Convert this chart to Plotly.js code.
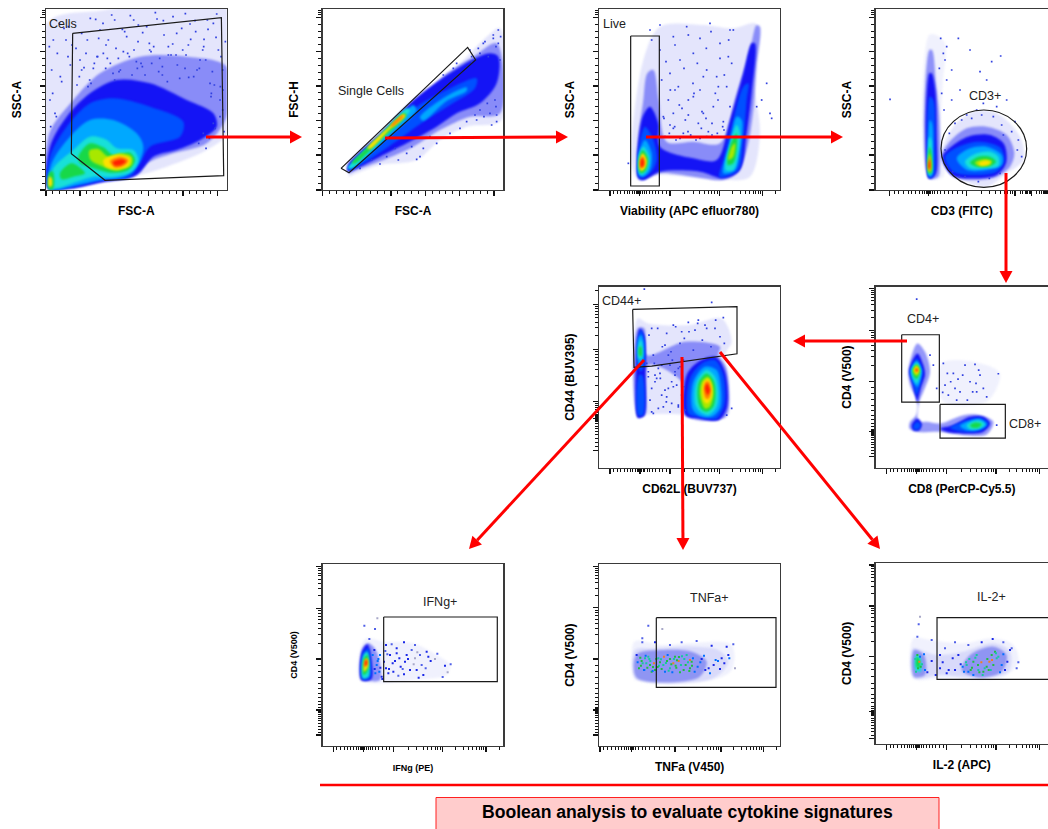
<!DOCTYPE html>
<html><head><meta charset="utf-8">
<script src="https://cdn.plot.ly/plotly-3.0.1.min.js"></script>
<style>html,body{margin:0;padding:0;background:#fff}#g{width:1048px;height:829px}</style></head>
<body><div id="g"></div>
<script>
// ---------- density bands: [level,[[channelX,channelY],...]]
const cellsBands=[
[0,[[140,568],[140,70],[300,32],[680,27],[680,400],[620,450],[500,500],[420,525],[300,548],[200,568]]],
[1,[[145,565],[148,400],[220,300],[300,220],[420,170],[560,170],[680,200],[680,350],[620,430],[520,460],[440,490],[400,530],[300,548],[200,568]]],
[2,[[145,565],[150,440],[200,350],[270,280],[350,240],[450,250],[560,300],[640,340],[650,380],[600,420],[530,450],[460,470],[410,525],[310,545],[210,565]]],
[3,[[146,565],[150,470],[200,380],[270,310],[340,295],[450,320],[550,365],[540,410],[450,440],[420,490],[390,530],[310,540],[220,560]]],
[4,[[147,565],[155,490],[210,410],[270,360],[340,360],[410,400],[430,440],[410,500],[370,530],[300,540],[230,555],[170,568]]],
[5,[[148,566],[160,505],[220,450],[270,410],[320,420],[350,445],[400,450],[415,480],[395,515],[340,530],[280,530],[230,545],[170,565]]],
[6,[[235,470],[270,430],[310,442],[340,465],[390,458],[405,480],[385,510],[330,518],[280,505],[240,490]]],
[6,[[180,520],[215,490],[255,520],[220,530],[185,538]]],
[6,[[147,568],[147,518],[158,514],[163,540],[158,568]]],
[7,[[268,452],[295,447],[325,470],[360,460],[395,470],[395,495],[350,512],[310,500],[272,480]]],
[8,[[310,480],[350,465],[390,475],[385,497],[345,508],[315,498]]],
[8,[[147,560],[147,530],[155,535],[155,558]]],
[9,[[330,483],[360,470],[385,480],[375,495],[345,503]]],
[10,[[338,487],[365,478],[378,484],[365,494],[345,497]]]];
const singletBands=[
[0,[[205,530],[300,420],[430,300],[560,170],[610,120],[660,85],[665,360],[560,380],[480,420],[410,480],[300,495],[230,520]]],
[1,[[205,520],[330,400],[420,300],[500,220],[580,170],[650,130],[660,340],[570,350],[480,390],[400,440],[310,480],[230,510]]],
[2,[[203,515],[203,495],[300,400],[400,300],[480,240],[580,178],[630,160],[655,170],[650,250],[600,310],[530,340],[470,380],[380,430],[300,470],[230,505]]],
[3,[[204,510],[300,420],[410,320],[500,270],[590,235],[585,265],[510,315],[430,365],[340,430],[250,490]]],
[4,[[203,505],[300,410],[380,330],[400,315],[410,330],[400,345],[310,425],[230,495]]],
[4,[[420,352],[500,288],[560,262],[560,273],[500,303],[430,362]]],
[5,[[204,505],[290,415],[380,325],[390,330],[300,425],[215,505]]],
[6,[[215,490],[300,407],[372,340],[380,345],[300,422],[225,490]]],
[8,[[262,445],[330,378],[372,342],[376,347],[330,388],[270,447]]],
[9,[[332,378],[368,345],[371,348],[336,380]]]];
const liveBands=[
[0,[[215,490],[250,180],[300,80],[430,75],[520,85],[585,70],[598,100],[580,230],[600,400],[570,530],[490,540],[300,525],[235,540]]],
[1,[[240,540],[230,470],[250,300],[262,220],[280,210],[296,300],[320,425],[400,425],[480,430],[530,280],[570,150],[590,75],[600,80],[590,200],[580,330],[560,450],[530,520],[490,540],[400,530],[300,520],[250,540]]],
[2,[[235,535],[232,470],[248,350],[270,320],[295,370],[300,440],[400,475],[470,480],[510,360],[550,220],[575,130],[585,130],[575,280],[560,400],[540,510],[490,535],[420,515],[300,515],[250,540]]],
[3,[[237,532],[233,470],[255,380],[280,420],[290,480],[270,520]]],
[3,[[478,530],[490,480],[515,380],[550,260],[565,250],[560,300],[550,420],[535,510],[495,530]]],
[4,[[238,525],[235,470],[255,420],[275,460],[270,510],[250,530]]],
[4,[[490,520],[510,430],[530,350],[545,360],[540,450],[525,510]]],
[5,[[238,520],[236,470],[250,440],[268,470],[262,510],[245,525]]],
[5,[[497,510],[510,430],[530,375],[540,400],[535,460],[520,510]]],
[6,[[238,515],[237,475],[248,450],[264,475],[258,510],[245,520]]],
[6,[[503,495],[513,430],[530,400],[530,450],[520,490]]],
[7,[[505,480],[515,440],[525,430],[520,470]]],
[8,[[240,510],[240,475],[248,460],[260,480],[255,505],[245,513]]],
[9,[[241,505],[241,478],[248,468],[255,485],[252,500]]],
[10,[[243,500],[243,480],[248,475],[252,490],[248,500]]]];
const cd3Bands=[
[14,[[296,535],[297,105],[318,105],[345,130],[338,250],[332,400],[340,530]]],
[0,[[335,470],[370,380],[430,335],[500,340],[570,410],[580,480],[530,520],[470,560],[400,540]]],
[1,[[296,535],[298,150],[306,150],[318,250],[328,350],[330,500],[325,530]]],
[1,[[335,470],[355,430],[410,385],[470,380],[530,405],[553,460],[540,500],[500,530],[440,540],[370,530]]],
[2,[[296,535],[298,220],[305,220],[316,270],[320,400],[318,520],[305,535]]],
[2,[[338,470],[370,435],[420,408],[480,405],[522,432],[528,490],[500,525],[430,535],[365,525]]],
[3,[[296,530],[299,290],[310,300],[315,420],[312,525],[300,535]]],
[3,[[345,470],[390,438],[450,425],[510,442],[523,480],[500,515],[430,525],[370,515]]],
[4,[[296,525],[300,360],[306,370],[309,460],[306,525],[299,530]]],
[4,[[380,475],[420,445],[470,440],[515,465],[515,495],[470,510],[410,510]]],
[5,[[296,525],[298,410],[304,420],[306,480],[304,520]]],
[5,[[405,485],[440,460],[480,455],[505,470],[505,498],[465,505],[420,505]]],
[6,[[296,520],[298,440],[303,450],[304,520]]],
[6,[[420,488],[445,470],[480,470],[498,485],[480,498],[440,500]]],
[7,[[296,515],[298,460],[302,470],[302,515]]],
[7,[[435,488],[460,478],[485,483],[480,495],[445,497]]],
[8,[[446,490],[465,482],[482,486],[470,495],[450,496]]],
[9,[[296,510],[298,470],[301,480],[301,510]]],
[10,[[296,505],[298,480],[300,490],[299,505]]]];
const cd44Bands=[
[0,[[250,430],[248,130],[280,145],[400,150],[500,130],[530,200],[510,240],[520,420],[480,435],[400,420],[270,420]]],
[1,[[248,425],[248,160],[268,160],[275,240],[390,200],[495,215],[490,240],[515,280],[515,420],[480,435],[400,425],[380,320],[280,270],[270,420]]],
[2,[[248,428],[247,200],[255,160],[268,180],[272,300],[268,420],[255,428]]],
[2,[[390,420],[395,300],[430,260],[480,245],[510,290],[515,400],[490,435],[430,430]]],
[3,[[248,270],[248,190],[258,165],[268,190],[268,270],[258,290]]],
[3,[[250,420],[252,300],[262,300],[264,420]]],
[3,[[400,415],[405,310],[440,265],[480,255],[505,300],[508,390],[485,430],[430,425]]],
[4,[[249,260],[250,190],[258,180],[265,200],[264,260],[256,275]]],
[4,[[412,400],[415,320],[450,275],[485,285],[498,340],[495,400],[470,425],[430,420]]],
[5,[[251,250],[252,205],[258,195],[262,210],[261,250]]],
[5,[[420,385],[425,320],[455,285],[480,305],[490,350],[485,395],[460,420],[435,410]]],
[6,[[252,240],[253,215],[259,215],[259,245]]],
[6,[[428,370],[432,320],[455,295],[475,315],[482,350],[475,395],[455,410],[437,400]]],
[7,[[435,360],[440,320],[458,305],[472,325],[475,360],[465,395],[450,400]]],
[8,[[442,350],[447,320],[460,312],[470,335],[470,365],[458,385],[448,380]]],
[9,[[446,345],[452,320],[462,320],[468,345],[462,370],[452,370]]],
[10,[[450,340],[456,325],[465,345],[458,360]]]];
const cd4cd8Bands=[
[14,[[335,265],[440,262],[510,295],[470,380],[340,380]]],
[1,[[235,285],[262,205],[285,230],[300,290],[280,350],[268,380],[265,440],[290,440],[330,445],[400,420],[450,420],[490,440],[470,478],[400,480],[330,470],[260,470],[238,460],[240,440],[258,420],[262,380],[240,330]]],
[2,[[238,285],[262,235],[280,270],[285,300],[272,340],[264,375],[262,385],[258,370],[248,330]]],
[2,[[245,450],[262,430],[275,445],[268,465],[250,465]]],
[2,[[330,460],[370,450],[420,425],[460,425],[480,445],[460,470],[400,475],[350,470]]],
[3,[[240,290],[260,250],[277,285],[275,310],[266,345],[260,360],[250,330]]],
[3,[[250,452],[262,440],[272,450],[265,462],[252,462]]],
[3,[[360,458],[410,435],[450,428],[475,445],[455,465],[400,470]]],
[4,[[242,285],[260,258],[275,285],[272,310],[262,335],[250,320]]],
[4,[[390,452],[425,435],[450,432],[470,447],[450,462],[410,465]]],
[5,[[245,285],[260,262],[272,285],[268,310],[260,325],[250,310]]],
[5,[[410,450],[430,438],[450,437],[465,448],[448,460],[420,462]]],
[6,[[248,285],[260,268],[270,285],[265,305],[260,312],[252,305]]],
[6,[[420,450],[437,442],[455,447],[445,457],[428,458]]],
[7,[[250,285],[260,270],[268,285],[262,302],[254,298]]],
[8,[[252,285],[260,274],[266,285],[260,296]]],
[9,[[255,285],[260,278],[264,285],[260,292]]],
[10,[[257,285],[260,281],[263,285],[260,289]]]];
const ifngBands=[
[14,[[240,375],[245,270],[260,250],[310,260],[400,265],[470,300],[510,330],[500,360],[430,372]]],
[1,[[243,375],[247,280],[265,265],[290,290],[300,375],[265,378]]],
[2,[[245,375],[246,290],[262,268],[272,300],[274,372]]],
[3,[[247,372],[248,295],[265,280],[272,320],[270,370]]],
[5,[[248,370],[250,300],[262,290],[268,320],[266,365]]],
[6,[[250,360],[252,310],[262,300],[266,325],[262,350]]],
[8,[[252,350],[254,315],[262,310],[264,335]]],
[10,[[254,335],[256,315],[261,315],[261,330]]]];
const tnfaBands=[
[14,[[238,370],[238,260],[320,270],[400,265],[530,270],[530,345],[470,375],[240,375]]],
[0,[[240,370],[240,285],[300,280],[410,275],[490,285],[520,320],[470,372]]],
[11,[[245,368],[245,298],[320,285],[410,290],[455,320],[430,368]]]];
const il2Bands=[
[14,[[250,370],[250,250],[300,255],[400,265],[490,250],[550,270],[565,320],[520,365],[330,370]]],
[0,[[250,368],[250,280],[285,290],[320,300],[400,290],[490,265],[540,290],[535,350],[450,368],[330,360]]],
[11,[[252,365],[252,285],[282,300],[285,360]]],
[11,[[395,345],[420,300],[490,275],[530,300],[515,350],[450,368]]],
[5,[[256,345],[258,300],[270,305],[272,350]]],
[6,[[259,335],[260,305],[268,312],[268,340]]]];

// ---------- individual sparse events
const cellsDotX=[160,172,155,185,198,150,165,205,178,152,240,262,300,344,380,415,448,490,530,570,612,640,655,668,310,355,402,455,505,548,600,630,660,280,325,228,252,287,318,367,391,428,471,518,556,587,622,648,273,339,412,487,566,633,
 148,158,169,181,192,204,216,231,245,258,271,283,296,309,322,335,348,361,374,388,401,414,427,440,453,466,479,492,505,519,532,545,558,572,585,598,611,624,637,650,663,676,245,269,293,331,357,383,409,435,461,487,513,539,565,591,617,643,669,211,238,264,291,317,344,370,396,423,449,476,502,528,555,581,608,634,661,
 610,628,645,660,672,596,618,640,668];
const cellsDotY=[120,160,210,245,120,300,340,80,70,380,180,120,90,60,110,75,130,62,100,72,118,70,150,210,160,175,150,190,165,150,180,250,300,205,120,145,203,58,135,88,47,98,57,132,41,95,60,112,250,220,205,225,232,290,
 140,280,350,230,85,170,135,255,100,160,55,190,115,70,175,45,145,210,95,170,60,125,200,80,155,38,175,105,140,50,195,85,165,118,62,205,140,88,215,42,170,125,210,240,170,190,215,160,185,225,140,200,165,235,135,210,180,255,270,195,230,260,170,205,240,155,225,190,150,215,245,165,205,230,150,280,260,
 400,415,385,350,395,430,445,370,330];
const singletDotX=[610,640,655,648,625,662,600,575,590,635,650,420,410,470,380,355,300,540,510,650,560,585,612,630,648,600,622,645,570,520,490,450,430,395,345,320,275,240,615,640,655,660,595,575,530];
const singletDotY=[130,115,90,140,170,110,160,185,360,375,365,470,478,430,460,480,492,385,400,345,365,345,350,340,320,330,310,300,150,205,225,410,445,440,445,470,480,505,125,105,130,180,145,170,190];
const liveDotX=[270,300,340,380,420,450,480,360,400,440,330,470,510,300,420,385,275,340,605,635,630,205,620,590,515,345,430,500,
 305,318,331,345,358,372,385,399,412,426,439,453,466,480,493,506,310,325,340,355,370,385,400,415,430,445,460,475,490,505,520,315,330,348,366,384,402,420,438,456,474,492,510,298,312,328,344,360,376,392,408,424,440,456,472,488,504];
const liveDotY=[90,75,110,80,115,70,130,180,160,210,220,230,90,150,270,300,120,340,300,355,340,490,250,320,190,270,340,260,
 240,185,270,135,315,205,105,250,190,335,145,95,280,175,225,120,350,300,385,260,400,345,290,370,230,395,320,260,365,170,90,410,375,420,325,395,280,415,355,405,300,390,320,410,355,400,380,415,360,405,420,385,410,370,400,380,415];
const cd3DotX=[350,385,420,450,485,512,180,365,390,470,440,500,530,565,555,410,460,520,345,365,332,340,328,350,335,342,358,375,395,425,455,490,515,545,562,575,405,445,478,510,350,368,388,345];
const cd3DotY=[140,115,150,215,185,168,298,300,270,240,330,320,300,420,365,345,310,405,180,210,115,160,205,240,280,330,400,370,360,355,345,350,375,395,450,470,530,545,535,520,500,515,530,450];
const cd44DotX=[268,470,505,400,430,355,290,330,380,300,350,320,370,290,345,530,515,480,450,420,310,360,340,
 282,295,308,322,335,348,362,375,388,402,415,428,442,455,468,482,495,508,280,300,320,340,360,380,285,305,325,345,365,385,290,310,330,350,370,390,280,298,316,334,352,370,388,275,295,315,335,355,375];
const cd44DotY=[42,82,128,142,135,150,160,210,170,300,320,360,390,340,410,400,420,160,150,165,400,300,240,
 180,240,160,215,175,230,155,205,190,170,225,145,195,160,215,135,185,205,290,320,270,340,290,360,375,310,395,270,330,255,410,280,345,385,280,405,305,265,310,380,255,395,335,265,415,295,365,335,275];
const cd4cd8DotX=[260,340,370,405,435,460,505,345,390,420,450,380,355,440,470,500,310,320,300,362,398,428,446,375,412,338,352,384,438];
const cd4cd8DotY=[72,265,295,270,268,340,296,330,350,320,300,375,360,350,365,450,270,340,240,320,300,350,285,340,375,352,295,312,325];
const ifngDotX=[253,285,292,268,318,335,350,372,405,440,472,495,512,503,488,330,345,362,380,395,410,425,445,318,340,355,372,390,405,430,465,300,312,325,290,298,305,350,375,420,283,295,322,338,368,384,401,416,437,452,286,301,327,358,412,278,284,293,307,316];
const ifngDotY=[212,222,190,252,270,268,280,262,270,290,296,332,328,352,366,300,318,335,300,285,345,330,305,340,350,362,358,345,310,360,312,300,320,355,330,350,365,295,320,300,285,312,298,325,342,312,328,368,340,318,355,338,342,310,292,300,342,318,372,288];
const ifngDotLvl=[1,1,0,1,2,1,2,2,1,2,1,2,1,0,1,2,2,2,2,1,2,1,2,2,2,1,2,2,0,2,0,3,2,2,3,3,2,2,2,1,2,3,1,2,1,2,0,2,1,2,3,2,2,2,0,3,2,3,2,1];
const tnfaDotX=[280,262,322,262,245,300,345,380,425,470,515,535,540,260,285,315,345,372,395,405,345,325,290,270,252,405,440,465,500,520,355,375,410,268,310,330,360,392,280,300,
 256,263,272,277,286,293,304,312,320,327,336,341,349,357,364,371,378,386,399,411,419,258,267,283,297,308,333,352,366,381,403,414,248,274,294,318,338,362,388,428,436,451,476,489,508,447,461,482,495,523];
const tnfaDotY=[212,250,222,262,300,262,270,262,258,272,275,268,340,318,330,322,312,306,300,315,340,330,350,310,340,340,312,355,310,300,325,352,320,345,310,350,305,330,305,345,
 308,325,302,338,318,348,312,332,342,305,318,347,328,312,338,318,330,345,322,332,350,332,345,312,325,336,324,352,316,304,348,310,322,325,336,313,300,332,312,335,322,345,330,318,325,302,340,315,342,310];
const tnfaDotLvl=[1,1,0,1,2,2,1,1,1,2,2,1,0,6,6,6,6,6,5,9,5,5,6,5,6,6,2,3,2,2,9,6,6,3,5,3,6,6,5,6,
 6,5,3,6,5,3,6,5,6,9,6,5,6,5,6,9,5,6,5,6,3,6,3,5,9,6,5,3,6,5,6,3,3,5,6,5,3,6,5,3,3,2,2,3,2,3,2,3,2,3];
const il2DotX=[270,266,262,305,345,375,415,455,488,520,565,545,560,262,268,272,258,285,330,350,375,410,430,445,470,485,500,515,440,460,478,495,415,430,330,385,525,
 256,264,270,276,282,292,305,317,338,356,368,392,402,418,426,436,448,454,464,472,482,490,505,510,520,532,540,398,408,422,444,458,476,486,498];
const il2DotY=[185,208,245,255,280,262,270,262,252,262,322,280,340,300,320,335,350,345,300,355,345,330,320,345,335,300,310,330,300,350,320,290,350,360,340,300,345,
 312,340,305,328,298,352,318,360,322,345,310,328,350,312,338,308,352,322,340,312,345,330,305,352,298,320,285,335,322,345,330,360,345,315,295];
const il2DotLvl=[0,1,1,1,1,1,1,2,2,1,1,1,1,6,9,6,5,3,2,2,2,5,6,5,6,6,5,3,5,6,9,6,3,3,2,2,2,
 5,6,3,5,3,2,2,2,2,2,2,2,3,5,6,5,6,9,5,6,5,6,5,3,3,2,2,3,5,6,6,5,6,9,5];

// ---------- gates, in channels
const cellsGateX=[218,664,671,315,214,218], cellsGateY=[100,53,527,541,461,100];
const singletGateX=[183,563,587,207,183], singletGateY=[505,142,180,518,505];
const liveGateX=[212,298,298,212,212], liveGateY=[108,108,558,558,108];
const cd44GateX=[233,546,546,290,237,233], cd44GateY=[103,95,236,273,277,103];
const cd4GateX=[215,328,328,215,215], cd4GateY=[179,179,381,381,179];
const cd8GateX=[330,526,526,330,330], cd8GateY=[388,388,489,489,388];
const ifngGateX=[311,652,652,311,311], ifngGateY=[186,186,380,380,186];
const tnfaGateX=[304,663,663,304,304], tnfaGateY=[188,188,397,397,188];
const il2GateX=[700,321,321,700], il2GateY=[188,188,373,373];

// ---------- ticks and titles
const linMajorX=[138,240,343,446,549,652], linMajorY=[570,465,362,258,155,52];
const titlesX=["FSC-A","FSC-A","Viability (APC efluor780)","CD3 (FITC)","CD62L (BUV737)","CD8 (PerCP-Cy5.5)","IFNg (PE)","TNFa (V450)","IL-2 (APC)"];
const titlesY=["SSC-A","FSC-H","SSC-A","SSC-A","CD44 (BUV395)","CD4 (V500)","CD4 (V500)","CD4 (V500)","CD4 (V500)"];

const LC={0:'rgba(150,155,245,.26)',1:'rgba(70,75,245,.58)',11:'rgba(70,80,235,.50)',14:'rgba(160,165,240,.16)',2:'#1414f5',3:'#0050ff',4:'#00a8ff',5:'#18e0d8',6:'#18d848',7:'#a8e800',8:'#ffe000',9:'#ff8400',10:'#ff2000'};
const DOTC={0:'#a8a8c8',1:'#5060e8',2:'#1a28e8',3:'#0070ff',5:'#18c8a0',6:'#20c040',9:'#f08020'};

const W=1048,H=829;
const even=(a,b,n)=>{const o=[];for(let i=0;i<=n;i++)o.push(a+(b-a)*i/n);return o;};
const linMinor=m=>{let o=[];for(let i=0;i<m.length-1;i++)o=o.concat(even(m[i],m[i+1],5).slice(1,5));return o;};
const LOGS=[.301,.477,.602,.699,.778,.845,.903,.954];
const cluster=(a,z,b)=>{const o=[];[.12,.24,.36,.48,.58,.68,.76,.84,.9,.95,.98].forEach(f=>{o.push(a+(z-a)*f);o.push(b+(z-b)*f);});return o;};
const decade=(a,b)=>LOGS.map(f=>a+(b-a)*f);
function logTicks(neg,z,p1,p2,p3,end){
  const d=p3-p2, s=[...cluster(neg,z,p1),...decade(p1,p2),...decade(p2,p3),...decade(p3,p3+d).filter(v=>(end>p1?v<end:v>end))];
  return {maj:[neg,z,p1,p2,p3],min:s};
}
const P=[
{n:1,l:46,r:226.7,t:9,b:190,xr:[138,680],yr:[570,27],tx:{maj:linMajorX,min:linMinor(linMajorX)},ty:{maj:linMajorY,min:linMinor(linMajorY).concat([31,36,42])},bands:cellsBands,dx:cellsDotX,dy:cellsDotY,gate:[[cellsGateX,cellsGateY]],lab:[["Cells",188,71]],mir:true},
{n:2,l:322.7,r:503.3,t:9,b:190,xr:[128,670],yr:[570,27],tx:{maj:linMajorX.map(v=>v-10),min:linMinor(linMajorX).map(v=>v-10)},ty:{maj:linMajorY,min:linMinor(linMajorY).concat([31,36,42])},bands:singletBands,dx:singletDotX,dy:singletDotY,gate:[[singletGateX,singletGateY]],lab:[["Single Cells",272,272]],mir:true},
{n:3,l:599,r:780,t:9,b:190,xr:[117,660],yr:[570,27],tx:logTicks(150,238,330,478,608,660),ty:{maj:linMajorY,min:linMinor(linMajorY).concat([31,36,42])},bands:liveBands,dx:liveDotX,dy:liveDotY,gate:[[liveGateX,liveGateY]],lab:[["Live",162,72]],mir:true},
{n:4,l:875.7,r:1048,t:9,b:190,xr:[137,654],yr:[570,27],tx:logTicks(178,295,410,555,605,654),ty:{maj:linMajorY,min:linMinor(linMajorY).concat([31,36,42])},bands:cd3Bands,dx:cd3DotX,dy:cd3DotY,gate:[],circle:[333,330,590,562],lab:[["CD3+",465,287]],mir:false},
{n:5,l:599,r:780,t:286.7,b:467.5,xr:[132,675],yr:[577,35],tx:logTicks(165,255,345,493,623,675),ty:logTicks(525,430,378,222,88,42),bands:cd44Bands,dx:cd44DotX,dy:cd44DotY,gate:[[cd44GateX,cd44GateY]],lab:[["CD44+",200,78]],mir:true},
{n:6,l:875.7,r:1048,t:286.7,b:467.5,xr:[137,654],yr:[577,35],tx:logTicks(170,260,350,498,628,654),ty:logTicks(545,470,318,165,40,38),bands:cd4cd8Bands,dx:cd4cd8DotX,dy:cd4cd8DotY,gate:[[cd4GateX,cd4GateY],[cd8GateX,cd8GateY]],lab:[["CD4+",279,131],["CD8+",585,446]],mir:false},
{n:7,l:322.7,r:503.3,t:564.3,b:745.7,xr:[128,670],yr:[572,28],tx:logTicks(160,250,340,488,618,670),ty:logTicks(540,465,312,160,35,32),bands:ifngBands,dx:ifngDotX,dy:ifngDotY,dl:ifngDotLvl,gate:[[ifngGateX,ifngGateY]],lab:[["IFNg+",480,140]],mir:true,small:true},
{n:8,l:599.3,r:780,t:564.3,b:746,xr:[133,675],yr:[573,28],tx:logTicks(135,230,360,498,625,675),ty:logTicks(540,465,312,158,35,32),bands:tnfaBands,dx:tnfaDotX,dy:tnfaDotY,dl:tnfaDotLvl,gate:[[tnfaGateX,tnfaGateY]],lab:[["TNFa+",465,130]],mir:true},
{n:9,l:875.7,r:1048,t:563,b:743.7,xr:[137,654],yr:[566,24],tx:logTicks(170,260,350,498,628,654),ty:logTicks(550,470,305,153,30,27),bands:il2Bands,dx:il2DotX,dy:il2DotY,dl:il2DotLvl,gate:[[il2GateX,il2GateY]],lab:[["IL-2+",485,126]],mir:false}
];
const FONT='"Liberation Sans",Arial,sans-serif';
const traces=[],layout={width:W,height:H,margin:{l:0,r:0,t:0,b:0},showlegend:false,paper_bgcolor:'#fff',plot_bgcolor:'#fff',shapes:[],annotations:[],font:{family:FONT,color:'#000'}};
P.forEach((p,i)=>{
  const s=p.n===1?'':p.n, xa='x'+s, ya='y'+s;
  const fs=p.small?9:12;
  const base={showgrid:false,zeroline:false,showline:true,linecolor:'#3a3a3a',linewidth:1.4,ticks:'outside',ticklen:5,tickwidth:1.1,tickcolor:'#111',showticklabels:false,tickmode:'array'};
  const minor=v=>({tickmode:'array',tickvals:v,ticks:'outside',ticklen:3,tickwidth:1,tickcolor:'#111',showgrid:false});
  layout['xaxis'+s]=Object.assign({},base,{anchor:ya,domain:[p.l/W,Math.min(1,p.r/W)],range:p.xr,tickvals:p.tx.maj,mirror:true,minor:minor(p.tx.min),
    title:{text:'<b>'+titlesX[i]+'</b>',font:{size:fs,family:FONT},standoff:p.small?13:11}});
  layout['yaxis'+s]=Object.assign({},base,{anchor:xa,domain:[1-p.b/H,1-p.t/H],range:p.yr,tickvals:p.ty.maj,mirror:p.mir,minor:minor(p.ty.min),
    title:{text:'<b>'+titlesY[i]+'</b>',font:{size:fs,family:FONT},standoff:p.small?17:15}});
  p.bands.forEach(b=>{
    const lv=b[0],pts=b[1].concat([b[1][0]]);
    traces.push({type:'scatter',mode:'lines',xaxis:xa,yaxis:ya,x:pts.map(q=>q[0]),y:pts.map(q=>q[1]),fill:'toself',fillcolor:LC[lv],
      line:{width:0,shape:'spline',smoothing:.9,color:'rgba(0,0,0,0)'},hoverinfo:'skip'});
  });
  traces.push({type:'scatter',mode:'markers',xaxis:xa,yaxis:ya,x:p.dx,y:p.dy,hoverinfo:'skip',
    marker:{symbol:'square',size:p.dl?2:1.7,color:p.dl?p.dl.map(v=>DOTC[v]):'#3040e0',line:{width:0}}});
  p.gate.forEach(g=>traces.push({type:'scatter',mode:'lines',xaxis:xa,yaxis:ya,x:g[0],y:g[1],line:{color:'#1a1a1a',width:1.2},hoverinfo:'skip'}));
  if(p.circle)layout.shapes.push({type:'circle',xref:xa,yref:ya,x0:p.circle[0],y0:p.circle[1],x1:p.circle[2],y1:p.circle[3],line:{color:'#1a1a1a',width:1.2}});
  p.lab.forEach(a=>layout.annotations.push({xref:xa,yref:ya,x:a[1],y:a[2],text:a[0],showarrow:false,font:{size:12.5,color:'#222'},xanchor:'center',yanchor:'middle'}));
});
const px=v=>v/W, py=v=>1-v/H;
const RED='#ff0000';
function arrow(x0,y0,x1,y1){
  const L=Math.hypot(x1-x0,y1-y0),ux=(x1-x0)/L,uy=(y1-y0)/L,bx=x1-ux*12,by=y1-uy*12,nx=-uy,ny=ux;
  layout.shapes.push({type:'line',xref:'paper',yref:'paper',x0:px(x0),y0:py(y0),x1:px(bx),y1:py(by),line:{color:RED,width:3}});
  layout.shapes.push({type:'path',xref:'paper',yref:'paper',fillcolor:RED,line:{width:0},
    path:`M ${px(x1)} ${py(y1)} L ${px(bx+nx*6.5)} ${py(by+ny*6.5)} L ${px(bx-nx*6.5)} ${py(by-ny*6.5)} Z`});
}
[[206,137,302,137],[385,138,568,137],[646,137,843,137],[1006,173,1006,283],[907,341,793,341],[644,360,469,549],[682,357,683,550],[720,352,880,549]].forEach(a=>arrow(...a));
layout.shapes.push({type:'line',xref:'paper',yref:'paper',x0:px(320),x1:px(1048),y0:py(785),y1:py(785),line:{color:RED,width:2.6}});
layout.shapes.push({type:'rect',xref:'paper',yref:'paper',x0:px(436),x1:px(939),y0:py(797.5),y1:py(840),fillcolor:'#ffcccc',line:{color:'#ff2020',width:1}});
layout.annotations.push({xref:'paper',yref:'paper',x:px(687),y:py(812),text:'<b>Boolean analysis to evaluate cytokine signatures</b>',showarrow:false,font:{size:17.6,color:'#000'},xanchor:'center',yanchor:'middle'});
Plotly.newPlot('g',traces,layout,{displayModeBar:false,staticPlot:true}).then(gd=>{
  gd.querySelectorAll('.scatterlayer .js-fill').forEach(el=>{ el.style.filter='blur(1.3px)'; });
});
</script></body></html>
